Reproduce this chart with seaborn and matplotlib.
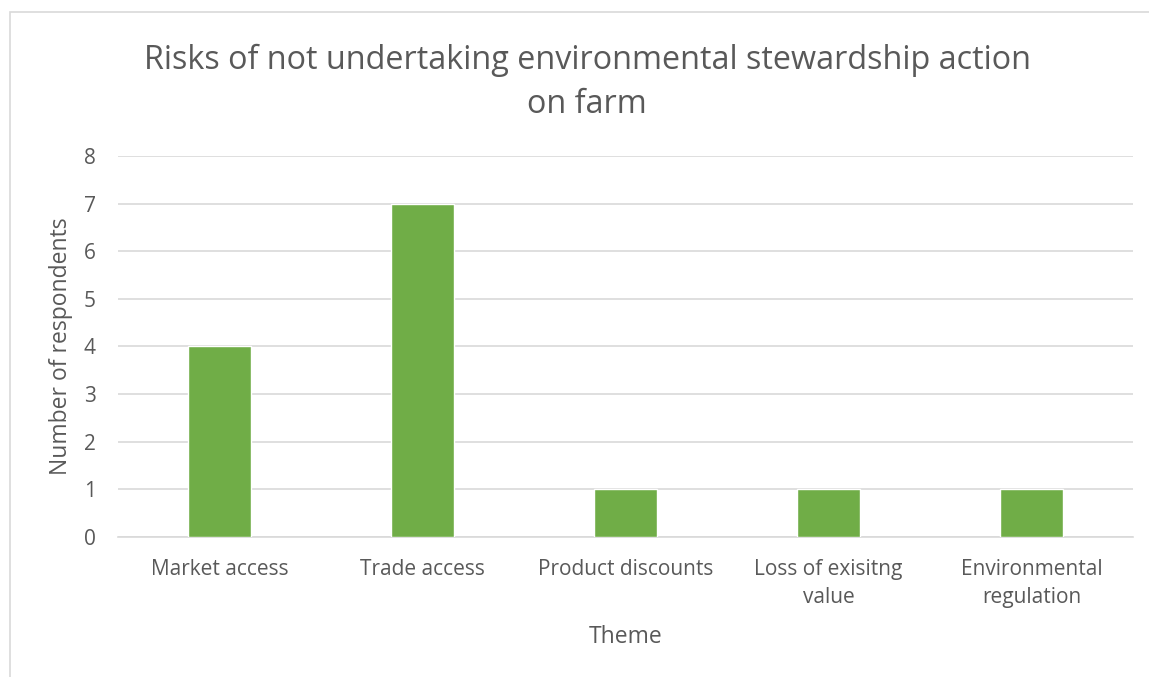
import numpy as np
import pandas as pd
import seaborn as sns
import matplotlib.pyplot as plt
from matplotlib.patches import Rectangle

# data
themes = ['Market access', 'Trade access', 'Product discounts',
          'Loss of exisitng\nvalue', 'Environmental\nregulation']
respondents = [4, 7, 1, 1, 1]
y_ticks = [0, 1, 2, 3, 4, 5, 6, 7, 8]

df = pd.DataFrame({'theme': themes, 'count': respondents})

sns.set_style('white')
plt.rcParams['font.family'] = ['Open Sans', 'DejaVu Sans']

txt = '#595959'
grid_c = '#D9D9D9'

fig = plt.figure(figsize=(11.49, 6.77), dpi=100)
ax = fig.add_axes([0.1027, 0.2068, 0.8833, 0.5628])

sns.barplot(data=df, x='theme', y='count', color='#70AD47', width=0.31,
            saturation=1, ax=ax, zorder=3)

ax.set_ylim(0, 8)
ax.set_xlim(-0.5, 4.5)
ax.set_yticks(y_ticks)
ax.yaxis.grid(True, color=grid_c, linewidth=1.2, zorder=0)
ax.set_axisbelow(True)
for s in ['top', 'right', 'left']:
    ax.spines[s].set_visible(False)
ax.spines['bottom'].set_color(grid_c)
ax.spines['bottom'].set_linewidth(1.2)

# category boundary ticks
ax.set_xticks(np.arange(-0.5, 5, 1), minor=True)
ax.tick_params(axis='x', which='minor', length=7, color=grid_c, width=1.2)
ax.tick_params(axis='x', which='major', length=0, pad=16, labelsize=15, labelcolor=txt)
ax.tick_params(axis='y', length=0, pad=16, labelsize=15, labelcolor=txt)
for lab in ax.get_xticklabels():
    lab.set_linespacing(1.45)

ax.set_xlabel('Theme', fontsize=16.5, color=txt, labelpad=12)
ax.set_ylabel('Number of respondents', fontsize=16.5, color=txt, labelpad=8)

fig.text(0.511, 0.878, 'Risks of not undertaking environmental stewardship action\non farm',
         ha='center', va='center', fontsize=23.3, color=txt, linespacing=1.45)

# chart frame
fig.patches.append(Rectangle((10 / 1149, -0.05), 1.0, 1.05 - 12 / 677,
                             transform=fig.transFigure, fill=False,
                             edgecolor=grid_c, linewidth=1.2))

fig.savefig('out.png', dpi=100)
